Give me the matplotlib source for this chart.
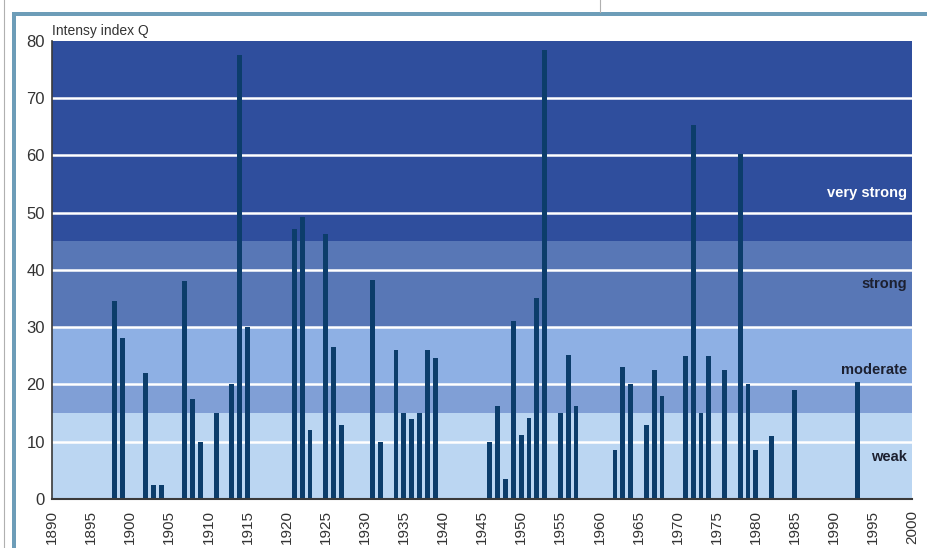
import matplotlib
matplotlib.use("Agg")
import matplotlib.pyplot as plt
import matplotlib.patches as patches

plt.rcParams['font.family'] = ['Liberation Sans', 'DejaVu Sans']

years = [1898, 1899, 1902, 1903, 1904, 1907, 1908, 1909, 1911, 1913, 1914, 1915,
         1921, 1922, 1923, 1925, 1926, 1927, 1931, 1932, 1934, 1935, 1936, 1937,
         1938, 1939, 1946, 1947, 1948, 1949, 1950, 1951, 1952, 1953, 1955, 1956,
         1957, 1962, 1963, 1964, 1966, 1967, 1968, 1971, 1972, 1973, 1974, 1976,
         1978, 1979, 1980, 1982, 1985, 1993]
q_index = [34.6, 28.1, 22.0, 2.5, 2.5, 38.1, 17.5, 10.0, 15.0, 20.0, 77.5, 30.0,
           47.1, 49.2, 12.1, 46.2, 26.6, 13.0, 38.2, 10.0, 26.1, 15.0, 14.0, 15.0,
           26.1, 24.6, 10.0, 16.2, 3.5, 31.1, 11.1, 14.2, 35.1, 78.4, 15.0, 25.2,
           16.2, 8.5, 23.0, 20.0, 13.0, 22.6, 18.0, 25.0, 65.3, 15.0, 25.0, 22.6,
           60.2, 20.0, 8.5, 11.0, 19.0, 20.5]

# intensity classes: band edges and colours
band_edges = [0, 15, 20, 30, 45, 80]
band_colors = ['#bbd6f2', '#809fd6', '#8eb0e4', '#5877b6', '#2f4e9d']
class_names = ['weak', 'moderate', 'strong', 'very strong']
class_label_y = [7.3, 22.5, 37.5, 53.5]
class_label_colors = ['#1c2030', '#1c2030', '#1c2030', 'white']

xticks = list(range(1890, 2001, 5))
yticks = list(range(0, 81, 10))

fig = plt.figure(figsize=(9.28, 5.48), dpi=100)
ax = fig.add_axes([0.056, 0.0894, 0.927, 0.836])

for i in range(len(band_colors)):
    ax.axhspan(band_edges[i], band_edges[i + 1], color=band_colors[i], lw=0, zorder=0)

for y in yticks[1:-1]:
    ax.axhline(y, color='white', lw=1.8, zorder=1)

ax.bar(years, q_index, width=0.62, color='#0c3d6b', zorder=2)

for name, y, c in zip(class_names, class_label_y, class_label_colors):
    ax.text(1999.3, y, name, ha='right', va='center', fontsize=10.5,
            color=c, fontweight='bold', zorder=3)

ax.set_xlim(1890, 2000)
ax.set_ylim(0, 80)
ax.set_xticks(xticks)
ax.set_xticklabels([str(x) for x in xticks], rotation=90, fontsize=11, color='#333333')
ax.set_yticks(yticks)
ax.set_yticklabels([str(y) for y in yticks], fontsize=12, color='#333333')
ax.tick_params(axis='both', length=0)
ax.tick_params(axis='x', pad=8)
ax.tick_params(axis='y', pad=5)

for s in ['top', 'right']:
    ax.spines[s].set_visible(False)
ax.spines['left'].set_color('#3a3a3a')
ax.spines['bottom'].set_color('#3a3a3a')
ax.spines['left'].set_linewidth(1.2)
ax.spines['bottom'].set_linewidth(1.5)

fig.text(0.056, 0.943, 'Intensy index Q', fontsize=10, color='#333333', va='center')

# page frame
fig.patches.append(patches.Rectangle((0.013, 0.970), 0.987, 0.008, transform=fig.transFigure,
                                     color='#6d9db8', lw=0))
fig.patches.append(patches.Rectangle((0.013, 0.0), 0.0045, 0.978, transform=fig.transFigure,
                                     color='#6d9db8', lw=0))
fig.lines.append(plt.Line2D([0.004, 0.004], [0, 1], transform=fig.transFigure,
                            color='#b0b0b0', lw=0.8))
fig.lines.append(plt.Line2D([0.647, 0.647], [0.978, 1], transform=fig.transFigure,
                            color='#b0b0b0', lw=0.8))

fig.savefig('out.png', dpi=100)
